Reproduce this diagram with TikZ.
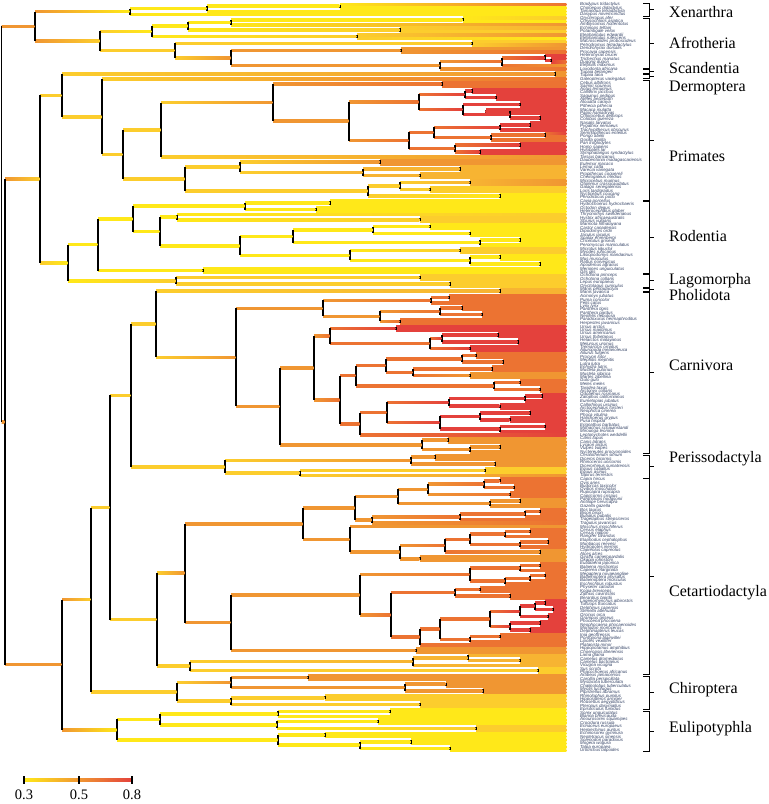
\documentclass[tikz,border=0pt]{standalone}
\usepackage{fontspec}
\setmainfont{Liberation Serif}
\newfontfamily\tipfont{Liberation Sans}
\usetikzlibrary{calc}
\definecolor{ryel}{RGB}{255,232,25}
\definecolor{rgld}{RGB}{252,205,45}
\definecolor{ramb}{RGB}{247,180,50}
\definecolor{rora}{RGB}{240,150,50}
\definecolor{rdor}{RGB}{236,115,50}
\definecolor{rred}{RGB}{228,65,60}
\definecolor{tiptext}{RGB}{50,65,100}
\tikzset{
  vbar/.style={black,line width=1.6pt},
  brk/.style={black,line width=0.8pt},
  tip/.style={font=\tipfont\itshape\fontsize{4.4}{4.4}\selectfont,text=tiptext,anchor=west,inner sep=0pt},
  clade/.style={font=\fontsize{16}{16}\selectfont,anchor=west,inner sep=0pt},
  scaleno/.style={font=\fontsize{14.5}{14.5}\selectfont,inner sep=0pt}
}
\newcommand\brch[2]{%
  \shade[left color=k#1,right color=k#2] let \p1=(#1), \p2=(#2) in
    (\x1,{\y2-1.25pt}) rectangle ({\x2-0.7pt},{\y2+1.25pt});}
\newcommand\jn[5]{%
  \xglobal\colorlet{k#1}{#5}%
  \path let \p1=(#3), \p2=(#4) in coordinate (#1) at (#2pt,{0.5*(\y1+\y2)});
  \brch{#1}{#3}\brch{#1}{#4}%
  \draw[vbar] (#3 -| #1) -- (#4 -| #1);}
\newcommand\cladebox[2]{%
  \draw[brk] (643,#1) -- (649,#1) -- (649,#2) -- (643,#2) (649,{(#1+#2)/2}) -- (654,{(#1+#2)/2});}

\begin{document}
\begin{tikzpicture}[x=1pt,y=-1pt]
\useasboundingbox (0,0) rectangle (769,804);
\foreach \i in {0,...,220} \coordinate (t\i) at (567,{4.5+3.39*\i});
\foreach \a/\b/\k in {0/0/rdor,1/3/ryel,4/4/rgld,5/5/ryel,6/6/rora,7/7/ramb,8/8/rgld,9/9/rora,10/10/ryel,11/11/rgld,12/13/rora,14/14/rdor,15/16/rred,17/17/rdor,18/18/rora,19/19/rdor,20/21/rora,22/24/rdor,25/38/rred,39/40/rdor,41/44/rred,45/47/rora,48/51/ramb,52/53/rora,54/55/rgld,56/61/ryel,62/64/rgld,65/71/ryel,72/73/rgld,74/79/ryel,80/83/rgld,84/85/ramb,86/94/rdor,95/102/rred,103/108/rdor,109/110/rora,111/114/rdor,115/127/rred,128/136/rora,137/138/rgld,139/139/rora,140/145/rdor,146/148/rora,149/153/rdor,154/154/rora,155/160/rdor,161/164/rora,165/175/rdor,176/185/rred,186/189/rdor,190/191/rora,192/195/ramb,196/197/rgld,198/203/rora,204/207/rgld,208/212/ryel,213/214/rgld,215/220/ryel}
  {\foreach \i in {\a,...,\b} {\edef\tmpc{\noexpand\xglobal\noexpand\colorlet{kt\i}{\k}}\tmpc}}

\jn{xa}{340}{t0}{t1}{ryel}
\jn{xb}{207}{xa}{t2}{ryel}
\jn{xc}{130}{xb}{t3}{ryel}
\jn{a1}{463}{t4}{t5}{ryel}
\jn{a2}{231}{a1}{t6}{ryel}
\jn{a3}{400}{t7}{t8}{rgld}
\jn{a4}{188}{a2}{a3}{ryel}
\jn{a5}{357}{t9}{t10}{rgld}
\jn{a6}{152}{a4}{a5}{ryel}
\jn{f1}{472}{t11}{t12}{rgld}
\jn{f2}{401}{t13}{t14}{rora}
\jn{f3}{551}{t16}{t17}{rred}
\jn{f4}{545}{t15}{f3}{rred}
\jn{f5}{502}{f4}{t18}{rdor}
\jn{f6}{440}{f5}{t19}{rora}
\jn{f7}{231}{f2}{f6}{rora}
\jn{f8}{175}{f1}{f7}{rgld}
\jn{af}{100}{a6}{f8}{rgld}
\jn{xn}{35}{xc}{af}{rora}

\jn{sc}{555}{t20}{t21}{rora}
\jn{p1}{442}{t23}{t24}{rdor}
\jn{p2}{472}{t25}{t26}{rred}
\jn{p3}{496}{t27}{t28}{rred}
\jn{p4}{465}{p2}{p3}{rred}
\jn{p5}{520}{t29}{t30}{rred}
\jn{p6}{486}{t31}{t32}{rred}
\jn{p7}{540}{t33}{t34}{rred}
\jn{p8}{510}{p6}{p7}{rred}
\jn{p9}{463}{p5}{p8}{rred}
\jn{p10}{419}{p4}{p9}{rdor}
\jn{p11}{530}{t35}{t36}{rred}
\jn{p12}{500}{p11}{t37}{rred}
\jn{p13}{545}{t38}{t39}{rdor}
\jn{p14}{491}{p13}{t40}{rdor}
\jn{p15}{434}{p12}{p14}{rdor}
\jn{p16}{520}{t41}{t42}{rred}
\jn{p17}{480}{t43}{t44}{rred}
\jn{p18}{455}{p16}{p17}{rdor}
\jn{p19}{409}{p15}{p18}{rdor}
\jn{p20}{349}{p10}{p19}{rora}
\jn{p21}{273}{p1}{p20}{rora}
\jn{p22}{161}{p21}{t45}{rgld}
\jn{p23}{380}{t46}{t47}{rora}
\jn{p24}{460}{t48}{t49}{ramb}
\jn{p25}{420}{t50}{t51}{ramb}
\jn{p26}{363}{p24}{p25}{ramb}
\jn{p27}{240}{p23}{p26}{rgld}
\jn{p28}{470}{t52}{t53}{ramb}
\jn{p29}{430}{t54}{t55}{rgld}
\jn{p30}{400}{p28}{p29}{rgld}
\jn{p31}{500}{t56}{t57}{ryel}
\jn{p32}{368}{p30}{p31}{rgld}
\jn{p33}{185}{p27}{p32}{rgld}
\jn{pr}{123}{p22}{p33}{rgld}
\jn{ev}{102}{t22}{pr}{rgld}
\jn{ec}{62}{sc}{ev}{rgld}

\jn{r1}{330}{t58}{t59}{ryel}
\jn{r2}{316}{t60}{t61}{ryel}
\jn{r3}{245}{r1}{r2}{ryel}
\jn{r4}{420}{t63}{t64}{rgld}
\jn{r5}{177}{t62}{r4}{ryel}
\jn{r6}{430}{t65}{t66}{ryel}
\jn{r7}{470}{t67}{t68}{ryel}
\jn{r8}{373}{r6}{r7}{ryel}
\jn{r9}{520}{t69}{t70}{ryel}
\jn{r10}{480}{r9}{t71}{ryel}
\jn{r11}{293}{r8}{r10}{ryel}
\jn{r12}{460}{t72}{t73}{rgld}
\jn{r13}{500}{t74}{t75}{ryel}
\jn{r14}{540}{t76}{t77}{ryel}
\jn{r15}{470}{r13}{r14}{ryel}
\jn{r16}{350}{r12}{r15}{ryel}
\jn{r17}{240}{r11}{r16}{ryel}
\jn{r18}{160}{r5}{r17}{ryel}
\jn{r19}{133}{r3}{r18}{ryel}
\jn{r20}{203}{t78}{t79}{ryel}
\jn{ro}{98}{r19}{r20}{ryel}
\jn{l1}{420}{t80}{t81}{rgld}
\jn{l2}{450}{t82}{t83}{rgld}
\jn{lg}{176}{l1}{l2}{rgld}
\jn{gl}{68}{ro}{lg}{ryel}
\jn{eg}{40}{ec}{gl}{rgld}

\jn{ph}{500}{t84}{t85}{ramb}
\jn{cf1}{449}{t86}{t87}{rdor}
\jn{cf2}{431}{cf1}{t88}{rdor}
\jn{cf3}{462}{t89}{t90}{rdor}
\jn{cf4}{482}{t91}{t92}{rdor}
\jn{cf5}{440}{cf3}{cf4}{rdor}
\jn{cf7}{400}{t93}{t94}{rdor}
\jn{cf8}{380}{cf5}{cf7}{rora}
\jn{cf}{323}{cf2}{cf8}{rora}
\jn{cu1}{396}{t95}{t96}{rred}
\jn{cu2}{498}{t97}{t98}{rred}
\jn{cu3}{518}{t99}{t100}{rred}
\jn{cu4}{442}{cu2}{cu3}{rred}
\jn{cu5}{470}{t101}{t102}{rred}
\jn{cu6}{430}{cu4}{cu5}{rdor}
\jn{cu}{330}{cu1}{cu6}{rdor}
\jn{cm1}{476}{t103}{t104}{rdor}
\jn{cm2}{503}{t105}{t106}{rdor}
\jn{cm3}{462}{cm1}{cm2}{rdor}
\jn{cm4}{492}{t107}{t108}{rdor}
\jn{cm5}{470}{t109}{t110}{rora}
\jn{cm6}{413}{cm4}{cm5}{rdor}
\jn{cm7}{386}{cm3}{cm6}{rdor}
\jn{cm8}{520}{t111}{t112}{rdor}
\jn{cm9}{540}{t113}{t114}{rdor}
\jn{cm10}{494}{cm8}{cm9}{rdor}
\jn{cm}{356}{cm7}{cm10}{rdor}
\jn{cp1}{542}{t115}{t116}{rred}
\jn{cp2}{525}{cp1}{t117}{rred}
\jn{cp3}{500}{t118}{t119}{rred}
\jn{cp4}{449}{cp2}{cp3}{rred}
\jn{cp5}{530}{t120}{t121}{rred}
\jn{cp6}{510}{t122}{t123}{rred}
\jn{cp7}{480}{cp5}{cp6}{rred}
\jn{cp8}{545}{t124}{t125}{rred}
\jn{cp9}{500}{cp8}{t126}{rred}
\jn{cp10}{440}{cp7}{cp9}{rred}
\jn{cp11}{387}{cp4}{cp10}{rdor}
\jn{cp}{360}{cp11}{t127}{rdor}
\jn{cmp}{340}{cm}{cp}{rdor}
\jn{car}{314}{cu}{cmp}{rora}
\jn{cc1}{448}{t128}{t129}{rora}
\jn{cc2}{500}{t130}{t131}{rora}
\jn{cc3}{470}{cc2}{t132}{rora}
\jn{cc}{422}{cc1}{cc3}{rora}
\jn{cn}{280}{car}{cc}{rora}
\jn{ca}{236}{cf}{cn}{rora}
\jn{pc}{156}{ph}{ca}{rgld}
\jn{e1}{435}{t133}{t134}{rora}
\jn{e2}{495}{t135}{t136}{rora}
\jn{e3}{411}{e1}{e2}{rora}
\jn{e4}{485}{t137}{t138}{rgld}
\jn{e5}{300}{e4}{t139}{rgld}
\jn{pe}{225}{e3}{e5}{rgld}
\jn{fp}{131}{pc}{pe}{rgld}

\jn{bv1}{500}{t140}{t141}{rdor}
\jn{bv2}{514}{t142}{t143}{rdor}
\jn{bv3}{484}{bv1}{bv2}{rdor}
\jn{bv4}{510}{t144}{t145}{rdor}
\jn{bv5}{428}{bv3}{bv4}{rora}
\jn{bv6}{520}{t146}{t147}{rora}
\jn{bv7}{490}{bv6}{t148}{rora}
\jn{bv8}{398}{bv5}{bv7}{rora}
\jn{bv9}{540}{t149}{t150}{rdor}
\jn{bv10}{525}{bv9}{t151}{rdor}
\jn{bv11}{460}{bv10}{t152}{rdor}
\jn{bv12}{372}{bv11}{t153}{rora}
\jn{bv}{355}{bv8}{bv12}{rora}
\jn{cv1}{530}{t155}{t156}{rdor}
\jn{cv2}{505}{cv1}{t157}{rdor}
\jn{cv3}{548}{t158}{t159}{rdor}
\jn{cv4}{520}{cv3}{t160}{rdor}
\jn{cv5}{470}{cv2}{cv4}{rdor}
\jn{cv6}{540}{t161}{t162}{rora}
\jn{cv7}{445}{cv5}{cv6}{rdor}
\jn{cv8}{420}{t163}{t164}{rora}
\jn{cv9}{400}{cv7}{cv8}{rora}
\jn{cv}{350}{t154}{cv9}{rora}
\jn{ru}{303}{bv}{cv}{rora}
\jn{w1}{540}{t165}{t166}{rdor}
\jn{w2}{520}{w1}{t167}{rdor}
\jn{w3}{545}{t168}{t169}{rdor}
\jn{w4}{530}{w3}{t170}{rdor}
\jn{w5}{505}{w4}{t171}{rdor}
\jn{w6}{470}{w2}{w5}{rdor}
\jn{w7}{480}{t172}{t173}{rdor}
\jn{w8}{510}{t174}{t175}{rdor}
\jn{w9}{455}{w7}{w8}{rdor}
\jn{w10}{545}{t176}{t177}{rred}
\jn{w11}{553}{t178}{t179}{rred}
\jn{w12}{535}{w10}{w11}{rred}
\jn{w13}{548}{t180}{t181}{rred}
\jn{w14}{520}{w12}{w13}{rred}
\jn{w15}{540}{t182}{t183}{rred}
\jn{w16}{530}{t184}{t185}{rred}
\jn{w17}{510}{w15}{w16}{rred}
\jn{w18}{490}{w14}{w17}{rdor}
\jn{w19}{500}{t186}{t187}{rdor}
\jn{w20}{470}{w19}{t188}{rdor}
\jn{w21}{440}{w18}{w20}{rdor}
\jn{w22}{420}{w21}{t189}{rdor}
\jn{w23}{391}{w9}{w22}{rdor}
\jn{w24}{360}{w6}{w23}{rora}
\jn{hp}{416}{t190}{t191}{rora}
\jn{wh}{231}{w24}{hp}{rora}
\jn{cr}{185}{ru}{wh}{rora}
\jn{s1}{520}{t193}{t194}{ramb}
\jn{s2}{468}{t192}{s1}{ramb}
\jn{s3}{413}{s2}{t195}{ramb}
\jn{s4}{538}{t196}{t197}{rgld}
\jn{s5}{190}{s3}{s4}{rgld}
\jn{ce}{157}{cr}{s5}{rgld}
\jn{fc}{110}{fp}{ce}{rgld}

\jn{h1}{308}{t198}{t199}{rora}
\jn{h2}{446}{t200}{t201}{rora}
\jn{h3}{483}{t202}{t203}{rora}
\jn{h4}{405}{h2}{h3}{rora}
\jn{h5}{231}{h1}{h4}{rora}
\jn{h6}{325}{t204}{t205}{rgld}
\jn{h7}{420}{t206}{t207}{rgld}
\jn{h8}{231}{h6}{h7}{rgld}
\jn{ch}{177}{h5}{h8}{rgld}
\jn{sf}{91}{fc}{ch}{rgld}
\jn{u1}{390}{t208}{t209}{ryel}
\jn{u2}{278}{u1}{t210}{ryel}
\jn{u3}{378}{t211}{t212}{ryel}
\jn{u4}{476}{t213}{t214}{rgld}
\jn{u5}{277}{u3}{u4}{ryel}
\jn{u6}{160}{u2}{u5}{ryel}
\jn{u7}{325}{t215}{t216}{ryel}
\jn{u8}{411}{t217}{t218}{ryel}
\jn{u9}{450}{t219}{t220}{ryel}
\jn{u10}{360}{u8}{u9}{ryel}
\jn{u11}{278}{u7}{u10}{ryel}
\jn{eu}{117}{u6}{u11}{ryel}
\jn{la}{62}{sf}{eu}{rora}
\jn{bo}{5}{eg}{la}{rora}
\jn{rt}{1.5}{xn}{bo}{rora}

\foreach \s [count=\i from 0] in {Bradypus tridactylus, Choloepus didactylus, Tamandua tetradactyla, Dasypus novemcinctus,
  Orycteropus afer, Chrysochloris asiatica, Amblysomus hottentotus, Echinops telfairi, Potamogale velox, Elephantulus edwardii,
  Elephantulus rufescens, Macroscelides proboscideus, Petrodromus tetradactylus, Dendrohyrax dorsalis, Procavia capensis,
  Heterohyrax brucei, Trichechus manatus, Dugong dugon, Elephas maximus, Loxodonta africana, Tupaia belangeri, Tupaia tana,
  Galeopterus variegatus, Cebus albifrons, Saimiri sciureus, Aotus lemurinus, Callithrix jacchus, Saguinus oedipus,
  Ateles belzebuth, Alouatta caraya, Pithecia pithecia, Macaca mulatta, Papio hamadryas, Chlorocebus aethiops, Colobus guereza,
  Nasalis larvatus, Pygathrix nemaeus, Trachypithecus obscurus, Semnopithecus entellus, Pongo abelii, Gorilla gorilla,
  Pan troglodytes, Homo sapiens, Hylobates lar, Symphalangus syndactylus, Tarsius bancanus, Daubentonia madagascariensis,
  Eulemur macaco, Lemur catta, Varecia variegata, Propithecus coquereli, Cheirogaleus medius, Microcebus murinus,
  Otolemur crassicaudatus, Galago senegalensis, Loris tardigradus, Nycticebus coucang, Perodicticus potto, Cavia porcellus,
  Hydrochoerus hydrochaeris, Octodon degus, Heterocephalus glaber, Thryonomys swinderianus, Hystrix africaeaustralis,
  Sciurus vulgaris, Marmota himalayana, Castor canadensis, Dipodomys ordii, Jaculus jaculus, Spalax ehrenbergi,
  Cricetulus griseus, Peromyscus maniculatus, Microtus kikuchii, Myodes rufocanus, Lasiopodomys mandarinus, Mus musculus,
  Rattus norvegicus, Apodemus agrarius, Meriones unguiculatus, Glis glis, Ochotona princeps, Ochotona collaris,
  Lepus europaeus, Oryctolagus cuniculus, Manis pentadactyla, Manis javanica, Acinonyx jubatus, Puma concolor, Felis catus,
  Lynx lynx, Panthera tigris, Panthera pardus, Neofelis nebulosa, Paradoxurus hermaphroditus, Herpestes javanicus,
  Ursus arctos, Ursus maritimus, Ursus americanus, Ursus thibetanus, Helarctos malayanus, Melursus ursinus,
  Tremarctos ornatus, Ailuropoda melanoleuca, Ailurus fulgens, Procyon lotor, Mephitis mephitis, Lutra lutra,
  Enhydra lutris, Mustela putorius, Mustela sibirica, Martes zibellina, Gulo gulo, Meles meles, Taxidea taxus,
  Arctonyx collaris, Odobenus rosmarus, Zalophus californianus, Eumetopias jubatus, Callorhinus ursinus,
  Arctocephalus forsteri, Neophoca cinerea, Phoca vitulina, Halichoerus grypus, Pusa hispida, Erignathus barbatus,
  Monachus schauinslandi, Mirounga leonina, Leptonychotes weddellii, Canis lupus, Canis latrans, Lycaon pictus,
  Vulpes vulpes, Nyctereutes procyonoides, Ceratotherium simum, Diceros bicornis, Rhinoceros unicornis,
  Dicerorhinus sumatrensis, Equus caballus, Equus asinus, Tapirus terrestris, Capra hircus, Ovis aries, Budorcas taxicolor,
  Ovibos moschatus, Rupicapra rupicapra, Capricornis crispus, Pantholops hodgsonii, Antilope cervicapra, Gazella gazella,
  Bos taurus, Bison bison, Bubalus bubalis, Tragelaphus strepsiceros, Tragulus javanicus, Moschus moschiferus,
  Cervus elaphus, Cervus nippon, Rangifer tarandus, Elaphodus cephalophus, Muntiacus reevesi, Hydropotes inermis,
  Capreolus capreolus, Alces alces, Giraffa camelopardalis, Okapia johnstoni, Eubalaena japonica, Balaena mysticetus,
  Caperea marginata, Megaptera novaeangliae, Balaenoptera physalus, Balaenoptera musculus, Eschrichtius robustus,
  Physeter catodon, Kogia breviceps, Ziphius cavirostris, Berardius bairdii, Lagenorhynchus albirostris,
  Tursiops truncatus, Delphinus capensis, Stenella attenuata, Orcinus orca, Grampus griseus, Phocoena phocoena,
  Neophocaena phocaenoides, Monodon monoceros, Delphinapterus leucas, Inia geoffrensis, Pontoporia blainvillei,
  Lipotes vexillifer, Platanista minor, Hippopotamus amphibius, Choeropsis liberiensis, Lama glama, Camelus dromedarius,
  Camelus bactrianus, Vicugna vicugna, Sus scrofa, Phacochoerus africanus, Artibeus jamaicensis, Carollia perspicillata,
  Mystacina tuberculata, Chalinolobus tuberculatus, Myotis lucifugus, Pipistrellus abramus, Rhinolophus pumilus,
  Hipposideros armiger, Rousettus aegyptiacus, Pteropus dasymallus, Episoriculus fumidus, Sorex unguiculatus,
  Blarina brevicauda, Anourosorex squamipes, Crocidura russula, Erinaceus europaeus, Hemiechinus auritus,
  Echinosorex gymnura, Neotetracus sinensis, Solenodon paradoxus, Mogera wogura, Talpa europaea, Urotrichus talpoides}
  \node[tip] (sp\i) at (580,{4.5+3.39*\i}) {\s};

\cladebox{3}{16}
\cladebox{18}{68}
\cladebox{69}{73}
\cladebox{74}{78}
\cladebox{80}{200}
\cladebox{201}{273}
\cladebox{274}{287}
\cladebox{288}{291}
\cladebox{292}{453}
\cladebox{455}{478}
\cladebox{478}{674}
\cladebox{676}{709}
\cladebox{711}{751}
\node[clade] (xen) at (669,12) {Xenarthra};
\node[clade] (afr) at (669,43) {Afrotheria};
\node[clade] (sca) at (669,68.5) {Scandentia};
\node[clade] (der) at (669,87.5) {Dermoptera};
\node[clade] (pri) at (669,156) {Primates};
\node[clade] (rod) at (669,236) {Rodentia};
\node[clade] (lag) at (669,280.5) {Lagomorpha};
\node[clade] (pho) at (669,295.5) {Pholidota};
\node[clade] (cvr) at (669,365) {Carnivora};
\node[clade] (per) at (669,459) {Perissodactyla};
\node[clade] (cet) at (669,593) {Cetartiodactyla};
\node[clade] (chi) at (669,690) {Chiroptera};
\node[clade] (eul) at (669,729) {Eulipotyphla};

\shade[left color=ryel,right color=rora] (24,778.7) rectangle (79,781.3);
\shade[left color=rora,right color=rred] (79,778.7) rectangle (132,781.3);
\draw[vbar] (24,776) -- (24,784) (79,776) -- (79,784) (132,776) -- (132,784);
\node[scaleno] (v03) at (24,795) {0.3};
\node[scaleno] (v05) at (79,795) {0.5};
\node[scaleno] (v08) at (132,795) {0.8};
\end{tikzpicture}
\end{document}
